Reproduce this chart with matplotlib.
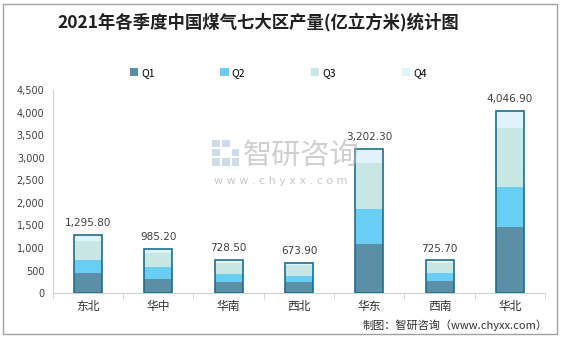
import numpy as np
import matplotlib.pyplot as plt
from matplotlib.patches import Rectangle

plt.rcParams['font.family'] = ['Noto Sans CJK SC', 'DejaVu Sans']

regions = ['东北', '华中', '华南', '西北', '华东', '西南', '华北']
totals = [1295.8, 985.2, 728.5, 673.9, 3202.3, 725.7, 4046.9]
q1 = [443, 317, 235, 235, 1093, 257, 1476]
q2 = [295, 250, 186, 142, 769, 186, 887]
q3 = [421, 319, 244, 244, 1033, 222, 1308]
# Q4 is whatever is left of the yearly total
q4 = [t - a - b - c for t, a, b, c in zip(totals, q1, q2, q3)]

quarters = ['Q1', 'Q2', 'Q3', 'Q4']
colors = ['#5b8fa6', '#6acdf4', '#c8e6e3', '#e0f3fa']
yticks = [0, 500, 1000, 1500, 2000, 2500, 3000, 3500, 4000, 4500]

fig = plt.figure(figsize=(5.62, 3.38), dpi=100)
ax = fig.add_axes([0.094, 0.133, 0.876, 0.60])

x = np.arange(len(regions))
width = 0.4
bottom = np.zeros(len(regions))
handles = []
for name, vals, c in zip(quarters, [q1, q2, q3, q4], colors):
    vals = np.array(vals, dtype=float)
    h = ax.bar(x, vals, width, bottom=bottom, color=c, edgecolor='none', label=name)
    handles.append(h)
    bottom += vals

# dark outline round each stacked bar
for xi, t in zip(x, totals):
    ax.add_patch(Rectangle((xi - width / 2, 0), width, t, fill=False,
                           edgecolor='#1d6f8f', linewidth=1.2, zorder=3))
    ax.text(xi, t + 150, '{:,.2f}'.format(t), ha='center', va='bottom',
            fontsize=7.5, color='#404040', family='DejaVu Sans')

ax.set_xlim(-0.5, len(regions) - 0.5)
ax.set_ylim(0, 4500)
ax.set_yticks(yticks)
ax.set_yticklabels(['{:,}'.format(v) for v in yticks], fontsize=7,
                   color='#404040', family='DejaVu Sans')
ax.set_xticks(x)
ax.set_xticklabels(regions, fontsize=8.5, color='#303030')
ax.set_xticks(np.arange(-0.5, len(regions)), minor=True)
ax.tick_params(axis='x', which='major', length=0, pad=5)
ax.tick_params(axis='x', which='minor', length=4, color='#d0d0d0')
ax.tick_params(axis='y', length=0, pad=6)
for s in ['top', 'right']:
    ax.spines[s].set_visible(False)
ax.spines['left'].set_color('#d0d0d0')
ax.spines['bottom'].set_color('#d0d0d0')

fig.text(0.46, 0.935, '2021年各季度中国煤气七大区产量(亿立方米)统计图',
         ha='center', va='center', fontsize=12.5, fontweight='bold', color='#202020')

fig.legend(handles=handles, labels=quarters, loc='center', bbox_to_anchor=(0.495, 0.785),
           ncol=4, frameon=False, fontsize=7.5, handlelength=0.8, handleheight=0.8,
           handletextpad=0.3, columnspacing=6.3)

# watermark: small logo block plus name and url
for i in range(3):
    for j in range(3):
        if (i, j) in [(1, 1), (2, 2)]:
            continue
        fig.patches.append(Rectangle((0.378 + i * 0.017, 0.51 + j * 0.027), 0.014, 0.023,
                                     transform=fig.transFigure, facecolor='#9fb8d8',
                                     edgecolor='none', alpha=0.5))
fig.text(0.535, 0.54, '智研咨询', ha='center', va='center', fontsize=21,
         color='#b0b0b0', alpha=0.6, zorder=0)
fig.text(0.5, 0.465, 'w w w . c h y x x . c o m', ha='center', va='center',
         fontsize=8, color='#b0b0b0', alpha=0.7, family='DejaVu Sans')

fig.text(0.975, 0.038, '制图：智研咨询（www.chyxx.com）', ha='right', va='center',
         fontsize=8, color='#303030')

fig.patches.append(Rectangle((0.006, 0.012), 0.985, 0.976, transform=fig.transFigure,
                             fill=False, edgecolor='#a0a0a0', linewidth=1))

fig.savefig('out.png', dpi=100)
